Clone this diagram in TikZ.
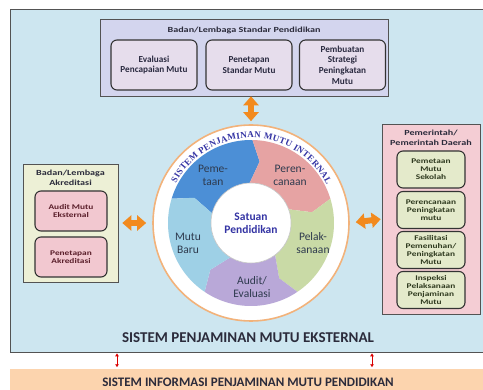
\documentclass[tikz,border=0pt]{standalone}
\usepackage{fontspec}
\setmainfont{Carlito}
\newfontfamily\itemfont{Carlito}[FakeStretch=1.3]
\newfontfamily\ringfont{Liberation Serif}
\usetikzlibrary{arrows.meta, positioning, calc, decorations.text}

\definecolor{bgblue}{HTML}{CDE6F0}
\definecolor{lavbox}{HTML}{D3D5EE}
\definecolor{lavin}{HTML}{E6DDEC}
\definecolor{greenbox}{HTML}{EDF0D6}
\definecolor{pinkbox}{HTML}{F4CDD4}
\definecolor{pinkin}{HTML}{F2C8D0}
\definecolor{greenin}{HTML}{E4EACB}
\definecolor{segblue}{HTML}{4C8FD6}
\definecolor{segpink}{HTML}{E6A3A3}
\definecolor{seggreen}{HTML}{C9DAA6}
\definecolor{segpurple}{HTML}{B9A8D8}
\definecolor{seglight}{HTML}{9ED0E6}
\definecolor{ringedge}{HTML}{F2B27A}
\definecolor{arrorange}{HTML}{F28A1E}
\definecolor{infobar}{HTML}{FCD4AE}
\definecolor{titleblue}{HTML}{3434A4}
\definecolor{txt}{HTML}{2B2B3B}
\definecolor{navytxt}{HTML}{2A2A40}
\definecolor{maroontxt}{HTML}{5A1E2A}
\definecolor{olivetxt}{HTML}{2F3A1F}
\definecolor{segtxt}{HTML}{2E3A4E}

\begin{document}
\begin{tikzpicture}[x=1pt, y=-1pt,
  panel/.style={draw=gray!65!black, line width=0.6pt, inner sep=0pt},
  head/.style={align=center, text=txt, font=\itemfont\bfseries\fontsize{7.8}{9.6}\selectfont},
  topitem/.style={draw=black!80, line width=1.1pt, rounded corners=6pt, fill=lavin,
    align=center, text=navytxt, minimum width=86, minimum height=50, inner sep=1.5pt,
    font=\bfseries\fontsize{9.2}{10.6}\selectfont},
  akitem/.style={draw=black!80, line width=1.1pt, rounded corners=6pt, fill=pinkin,
    align=center, text=maroontxt, minimum width=72, minimum height=40, inner sep=1.5pt,
    font=\itemfont\bfseries\fontsize{7.2}{8}\selectfont},
  pditem/.style={draw=black!80, line width=1.1pt, rounded corners=6pt, fill=greenin,
    align=center, text=olivetxt, minimum width=68, minimum height=37, inner sep=1.5pt,
    font=\itemfont\bfseries\fontsize{7.2}{8}\selectfont},
  seglabel/.style={align=center, text=segtxt, font=\fontsize{11.5}{13}\selectfont},
  bigarrow/.style={arrorange, line width=6pt,
    {Triangle[length=9pt,width=15pt]}-{Triangle[length=9pt,width=15pt]}},
  redarrow/.style={red!85!black, line width=1pt,
    {Latex[length=3pt,width=4pt]}-{Latex[length=3pt,width=4pt]}}]
  \useasboundingbox (0,0) rectangle (483,390);

  % external system frame and the information strip below it
  \node[panel, fill=bgblue, minimum width=476, minimum height=343] (ekst) at (248,180.5) {};
  \node[text=txt, font=\bfseries\fontsize{15}{16}\selectfont] (eksttitle) at (248,338)
    {SISTEM PENJAMINAN MUTU EKSTERNAL};
  \node[fill=infobar, minimum width=476, minimum height=27, inner sep=0pt, text=txt,
    font=\bfseries\fontsize{13}{14}\selectfont] (info) at (248,382.5)
    {SISTEM INFORMASI PENJAMINAN MUTU PENDIDIKAN};

  % standards body
  \node[panel, fill=lavbox, minimum width=288, minimum height=77] (bsnp) at (244,57.5) {};
  \node[head] (bsnptitle) at (244,30) {Badan/Lembaga Standar Pendidikan};
  \node[topitem] (evaluasi) at (154,65) {Evaluasi\\Pencapaian Mutu};
  \node[topitem] (standar) at (249,65) {Penetapan\\Standar Mutu};
  \node[topitem] (strategi) at (342.5,65) {Pembuatan\\Strategi\\Peningkatan\\Mutu};

  % accreditation body
  \node[panel, fill=greenbox, minimum width=95, minimum height=118] (akreditasi) at (70.5,223) {};
  \node[head] (aktitle) at (70.5,177.5) {Badan/Lembaga\\Akreditasi};
  \node[akitem] (audit) at (71,211) {Audit Mutu\\Eksternal};
  \node[akitem] (penetapan) at (71,257) {Penetapan\\Akreditasi};

  % local government
  \node[panel, fill=pinkbox, minimum width=98, minimum height=190] (pemda) at (431,219) {};
  \node[head] (pdtitle) at (431,138) {Pemerintah/\\Pemerintah Daerah};
  \node[pditem] (pemetaanmutu) at (431,169.5) {Pemetaan\\Mutu\\Sekolah};
  \node[pditem] (perencanaan) at (431,210) {Perencanaan\\Peningkatan\\mutu};
  \node[pditem] (fasilitasi) at (431,250) {Fasilitasi\\Pemenuhan/\\Peningkatan\\Mutu};
  \node[pditem] (inspeksi) at (431,290) {Inspeksi\\Pelaksanaan\\Penjaminan\\Mutu};

  % internal cycle
  \node[circle, draw=ringedge, line width=1.6pt, fill=white, minimum size=196, inner sep=0pt]
    (ring) at (251,223) {};
  \begin{scope}[shift={(ring.center)}, y=1pt]
    \foreach \col/\sa/\ea in {segblue/163/89, segpink/89/17, seggreen/17/-56,
                              segpurple/-56/-124, seglight/236/163}
      \fill[\col] (\sa:83) arc[start angle=\sa, end angle=\ea, radius=83]
        -- ({\ea-7}:62) -- ({\ea+3}:40) arc[start angle=\ea+3, end angle=\sa+3, radius=40]
        -- ({\sa-7}:62) -- cycle;
    \node[circle, draw=gray!45, line width=0.6pt, fill=white, minimum size=80, inner sep=0pt,
      align=center, text=titleblue, font=\bfseries\fontsize{11.5}{13}\selectfont]
      (satuan) at (0,0) {Satuan\\Pendidikan};
    \node[seglabel] (pemetaan) at (-38,48) {Peme-\\taan};
    \node[seglabel] (rencana) at (39,48) {Peren-\\canaan};
    \node[seglabel] (pelaksanaan) at (62,-20) {Pelak-\\sanaan};
    \node[seglabel] (evaluasiint) at (1,-64) {Audit/\\Evaluasi};
    \node[seglabel] (mutubaru) at (-63,-20) {Mutu\\Baru};
    \path[decorate, decoration={text along path, text color=titleblue, text align={fit to path},
      text={|\ringfont\bfseries\fontsize{9}{10}\selectfont|SISTEM PENJAMINAN MUTU INTERNAL}}]
      (152:85) arc[start angle=152, end angle=27, radius=85];
  \end{scope}

  % links between the bodies and the cycle
  \draw[bigarrow, shorten <=3pt] (ring.north) -- (ring.north |- bsnp.south);
  \draw[bigarrow, shorten <=4pt, shorten >=6pt] (akreditasi.east) -- (ring.west);
  \draw[bigarrow, shorten <=6pt, shorten >=1pt] (ring.east) -- (pemda.west);

  \coordinate (lft) at (117,0);
  \coordinate (rgt) at (372,0);
  \draw[redarrow, shorten <=1pt, shorten >=1.5pt] (ekst.south -| lft) -- (info.north -| lft);
  \draw[redarrow, shorten <=1pt, shorten >=1.5pt] (ekst.south -| rgt) -- (info.north -| rgt);
\end{tikzpicture}
\end{document}
